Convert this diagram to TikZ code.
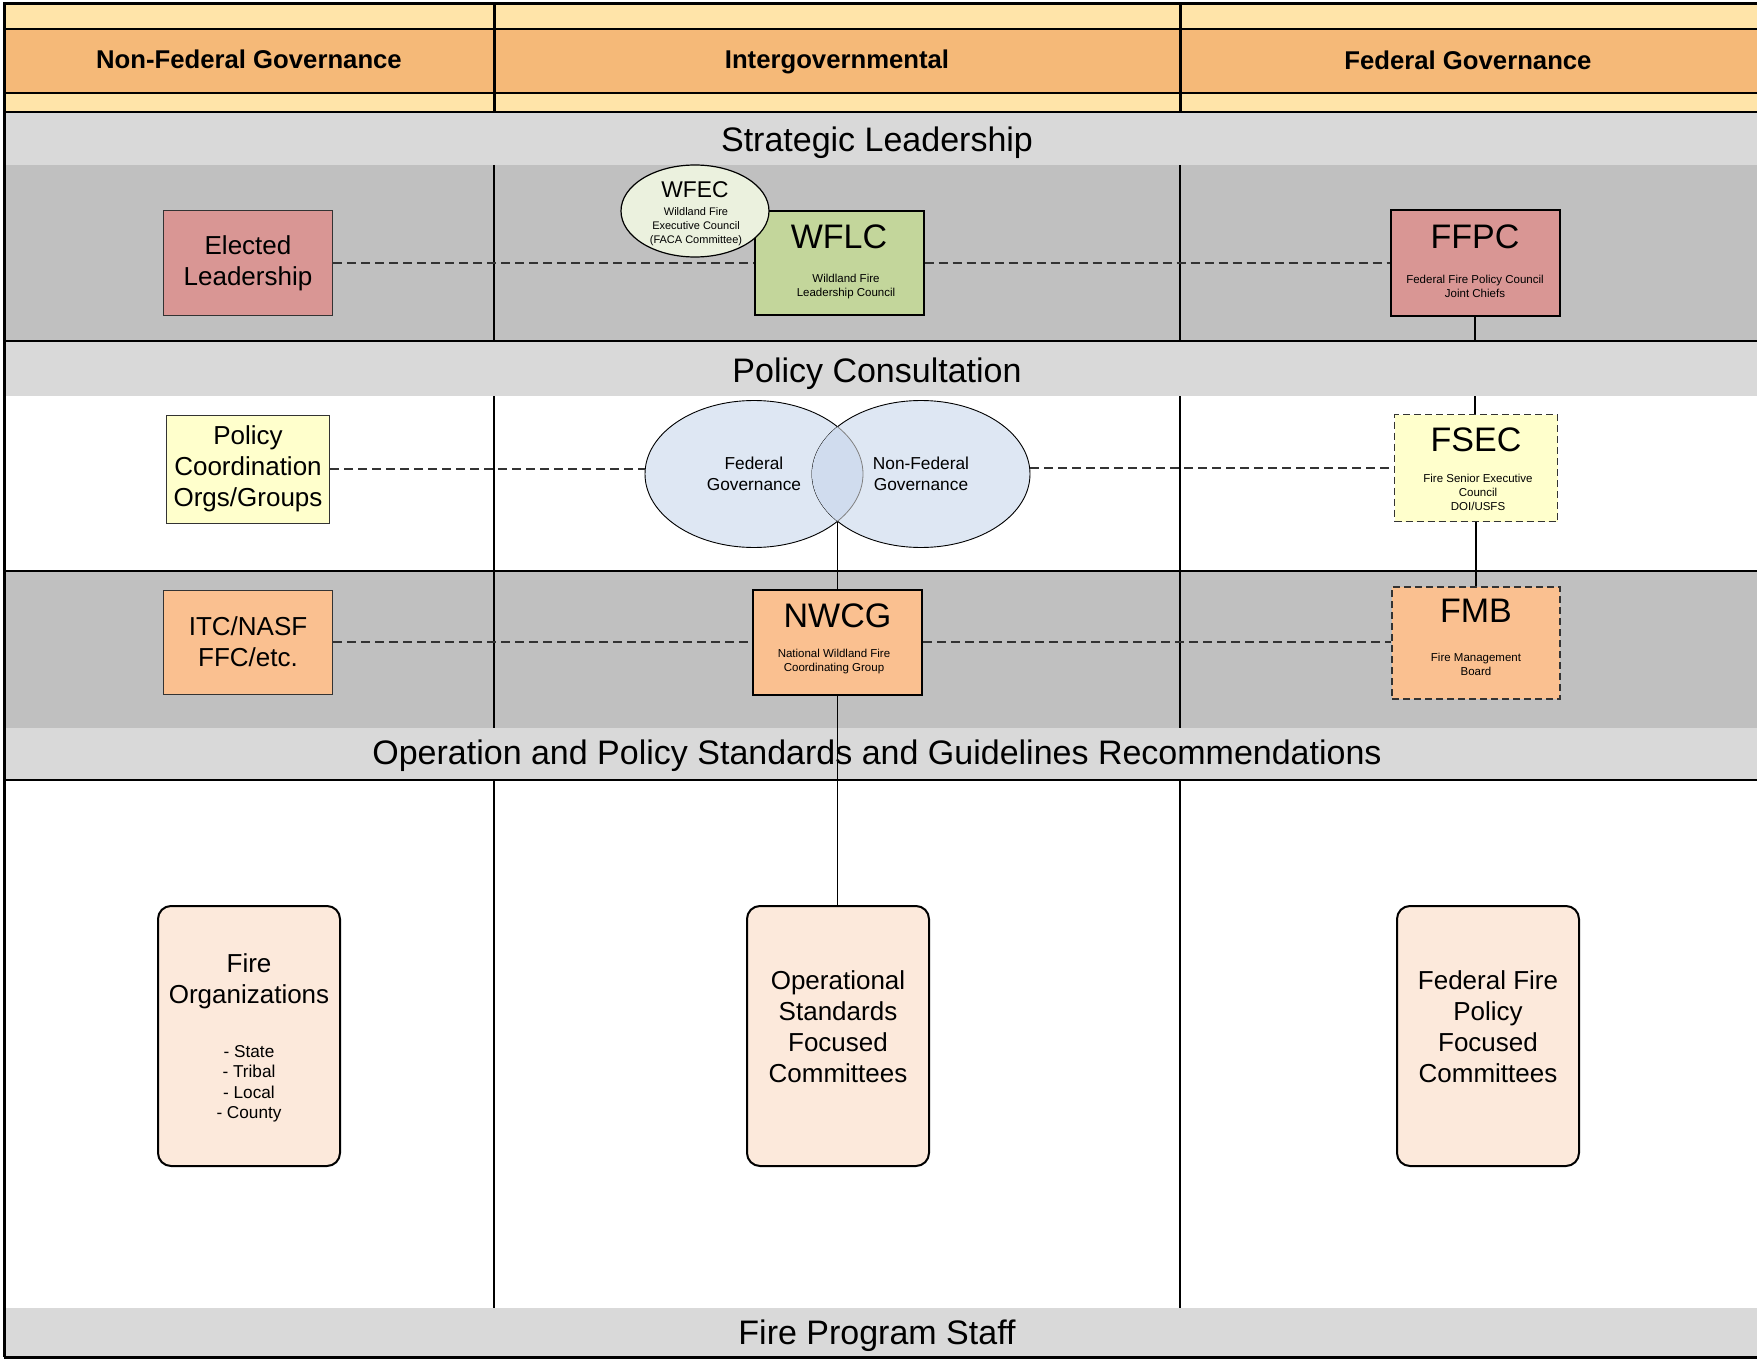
\documentclass[tikz,border=0pt]{standalone}
\usepackage{fontspec}
\setmainfont{Liberation Sans}
\usetikzlibrary{shapes.geometric}
\pgfdeclarelayer{background}
\pgfsetlayers{background,main}
\definecolor{hdrlight}{HTML}{FFE4A9}
\definecolor{hdrorange}{HTML}{F5B978}
\definecolor{bandgray}{HTML}{D9D9D9}
\definecolor{rowgray}{HTML}{C0C0C0}
\definecolor{rosefill}{HTML}{D99694}
\definecolor{greenfill}{HTML}{C3D69B}
\definecolor{palegreen}{HTML}{EBF1DE}
\definecolor{paleyellow}{HTML}{FFFFCC}
\definecolor{peachfill}{HTML}{FAC090}
\definecolor{vennfill}{HTML}{DEE7F3}
\definecolor{lensfill}{HTML}{D0DCEE}
\definecolor{creamfill}{HTML}{FCE9DB}
\definecolor{edge}{HTML}{333333}

\begin{document}
\begin{tikzpicture}[x=1pt,y=-1pt,
  thinbox/.style={draw=edge,line width=1pt,inner sep=0pt,font=\fontsize{26}{31}\selectfont,align=center},
  thickbox/.style={draw=black,line width=2pt,inner sep=0pt},
  dashbox/.style={draw=edge,line width=1.6pt,dash pattern=on 7pt off 4pt,inner sep=0pt},
  roundbox/.style={draw=black,line width=2pt,rounded corners=13pt,fill=creamfill,inner sep=0pt,minimum width=182pt,minimum height=260pt},
  vennpart/.style={ellipse,draw=black,line width=0.9pt,fill=vennfill,inner sep=0pt,minimum width=218pt,minimum height=147pt,font=\fontsize{17.3}{21}\selectfont,align=center},
  acro/.style={font=\fontsize{34}{34}\selectfont,inner sep=0pt},
  subtxt/.style={font=\fontsize{11.5}{14}\selectfont,align=center,inner sep=0pt},
  bandtxt/.style={font=\fontsize{34}{40}\selectfont,inner sep=0pt},
  hdrtxt/.style={font=\fontsize{25.7}{30}\selectfont\bfseries,inner sep=0pt},
  bigtxt/.style={font=\fontsize{26}{31}\selectfont,align=center,inner sep=0pt},
  listtxt/.style={font=\fontsize{17.2}{20.5}\selectfont,align=center,inner sep=0pt},
  dashline/.style={draw=edge,line width=1.3pt,dash pattern=on 9pt off 5pt},
  solidline/.style={draw=black,line width=2pt},
  divider/.style={line width=2.5pt},
  ]
\useasboundingbox (0,0) rectangle (1757,1359);

% frame, header rules and row rules
\draw[line width=1.5pt] (4,29) -- (1762,29);
\draw[line width=1.5pt] (4,93) -- (1762,93);
\foreach \yy in {112,341,571,780}
  \draw[line width=2.8pt] (4,\yy) -- (1762,\yy);
\draw[line width=3pt] (4,1357) -- (4,3.5) -- (1762,3.5);
\draw[line width=3pt] (4,1357) -- (1762,1357);

% column dividers
\foreach \xx in {494,1180}{
  \draw[line width=3pt] (\xx,3.5) -- (\xx,112);
  \draw[divider] (\xx,165) -- (\xx,341);
  \draw[divider] (\xx,396) -- (\xx,728);
  \draw[divider] (\xx,780) -- (\xx,1308);
}

% header
\node[hdrtxt] (hdrnonfed) at (249,59) {Non-Federal Governance};
\node[hdrtxt] (hdrinter) at (837,62) {Intergovernmental};
\node[hdrtxt] (hdrfed) at (1468,60) {Federal Governance};

% band titles
\node[bandtxt] (sltitle) at (877,142.5) {Strategic Leadership};
\node[bandtxt] (pctitle) at (877,373.5) {Policy Consultation};
\node[bandtxt] (optitle) at (877,755.5) {Operation and Policy Standards and Guidelines Recommendations};
\node[bandtxt] (fpstitle) at (877,1335.5) {Fire Program Staff};

% strategic leadership row
\node[thinbox, fill=rosefill, minimum width=169pt, minimum height=105pt] (elected) at (248,263) {Elected\\Leadership};
\node[thickbox, fill=greenfill, minimum width=169pt, minimum height=104pt] (wflc) at (839,263) {};
\node[acro] (wflctitle) at (839,237) {WFLC};
\node[subtxt] (wflcsub) at (846,287) {Wildland Fire\\Leadership Council};
\node[ellipse, draw=black, line width=1.2pt, fill=palegreen, inner sep=0pt, minimum width=148pt, minimum height=92pt] (wfec) at (695,211) {};
\node[font=\fontsize{22.8}{23}\selectfont, inner sep=0pt] (wfectitle) at (695,190) {WFEC};
\node[subtxt, font=\fontsize{11}{13.8}\selectfont] (wfecsub) at (696,226.5) {Wildland Fire\\Executive Council\\(FACA Committee)};
\node[thickbox, fill=rosefill, minimum width=169pt, minimum height=105pt] (ffpc) at (1475,263) {};
\node[acro] (ffpctitle) at (1475,237) {FFPC};
\node[subtxt] (ffpcsub) at (1475,286) {Federal Fire Policy Council\\Joint Chiefs};

% policy consultation row
\node[thinbox, fill=paleyellow, minimum width=163pt, minimum height=108pt] (pcg) at (248,469) {Policy\\Coordination\\Orgs/Groups};
\node[vennpart] (fedgov) at (754,474) {Federal\\Governance};
\node[vennpart] (nonfedgov) at (921,474) {Non-Federal\\Governance};
\begin{scope}
  \clip (921,474) ellipse [x radius=109pt, y radius=73.5pt];
  \fill[lensfill] (754,474) ellipse [x radius=109pt, y radius=73.5pt];
  \draw[gray, line width=0.8pt] (754,474) ellipse [x radius=109pt, y radius=73.5pt];
\end{scope}
\coordinate (lensbot) at (837.5,521.5);
\node[dashbox, fill=paleyellow, minimum width=163pt, minimum height=107pt] (fsec) at (1476,468) {};
\node[acro] (fsectitle) at (1476,440) {FSEC};
\node[subtxt] (fsecsub) at (1478,492) {Fire Senior Executive\\Council\\DOI/USFS};

% operations row
\node[thinbox, fill=peachfill, minimum width=169pt, minimum height=104pt] (itc) at (248,642) {ITC/NASF\\FFC/etc.};
\node[thickbox, fill=peachfill, minimum width=169pt, minimum height=105pt] (nwcg) at (837.5,642) {};
\node[acro] (nwcgtitle) at (837.5,616) {NWCG};
\node[subtxt] (nwcgsub) at (834,662) {National Wildland Fire\\Coordinating Group};
\node[dashbox, fill=peachfill, minimum width=168pt, minimum height=112pt] (fmb) at (1476,643) {};
\node[acro] (fmbtitle) at (1476,611) {FMB};
\node[subtxt] (fmbsub) at (1476,664.5) {Fire Management\\Board};

% committees row
\node[roundbox] (fireorg) at (249,1036) {};
\node[bigtxt] (fireorgtitle) at (249,981) {Fire\\Organizations};
\node[listtxt] (fireorglist) at (249,1084) {- State\\- Tribal\\- Local\\- County};
\node[roundbox] (opstd) at (838,1036) {};
\node[bigtxt] (opstdtxt) at (838,1027) {Operational\\Standards\\Focused\\Committees};
\node[roundbox] (fedfire) at (1488,1036) {};
\node[bigtxt] (fedfiretxt) at (1488,1027) {Federal Fire\\Policy\\Focused\\Committees};

% connectors
\draw[dashline] (elected.east) -- (wflc.west);
\draw[dashline] (wflc.east) -- (ffpc.west);
\draw[dashline] (pcg.east) -- (pcg.east -| fedgov.west);
\draw[dashline] (fsec.west -| nonfedgov.east) -- (fsec.west);
\draw[dashline] (itc.east) -- (nwcg.west);
\draw[dashline] (nwcg.east) -- (nwcg.east -| fmb.west);
\draw[solidline] (fsec.south) -- (fsec.south |- fmb.north);
\draw[solidline, line width=1.6pt] (lensbot) -- (nwcg.north);
\draw[line width=1pt] (nwcg.south) -- (nwcg.south |- opstd.north);

% row fills, behind everything
\begin{pgfonlayer}{background}
\fill[hdrlight] (4,3.5) rectangle (1762,112);
\fill[hdrorange] (4,29) rectangle (1762,93);
\fill[bandgray] (4,112) rectangle (1762,165);
\fill[rowgray] (4,165) rectangle (1762,341);
\fill[white] (4,396) rectangle (1762,571);
\fill[rowgray] (4,571) rectangle (1762,728);
\fill[white] (4,780) rectangle (1762,1308);
\draw[solidline] (ffpc.south) -- (ffpc.south |- fsec.north);
\fill[bandgray] (4,341) rectangle (1762,396);
\fill[bandgray] (4,728) rectangle (1762,780);
\fill[bandgray] (4,1308) rectangle (1762,1357);
\end{pgfonlayer}
\end{tikzpicture}
\end{document}
